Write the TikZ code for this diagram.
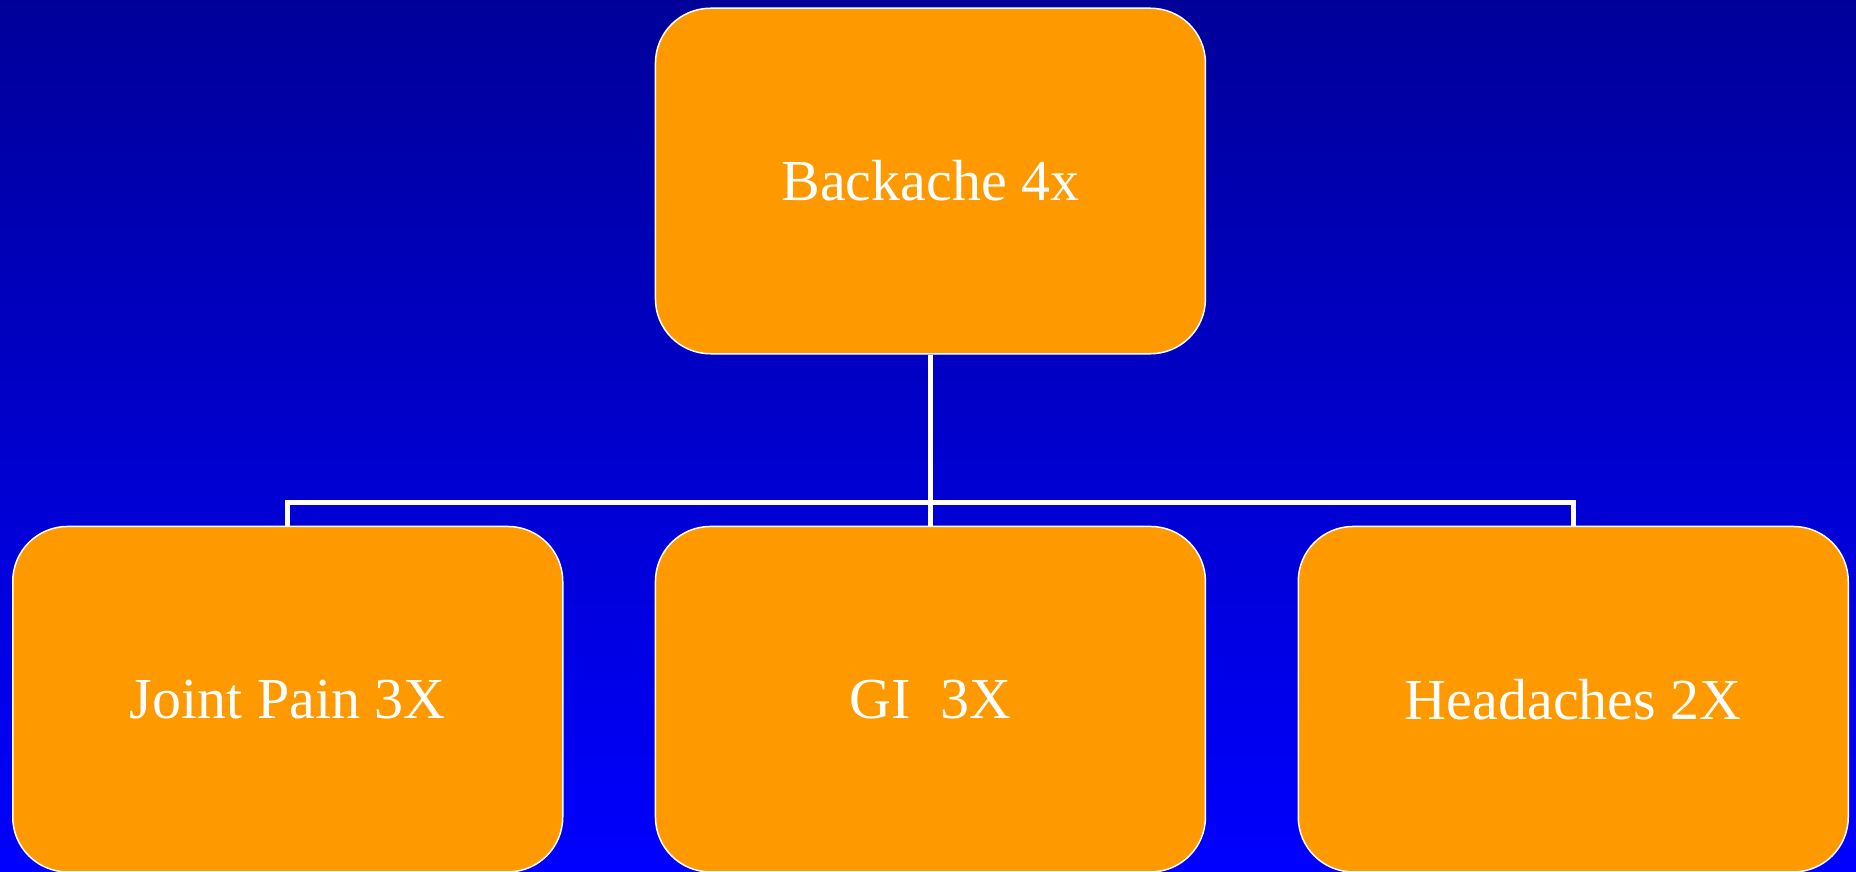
\documentclass[tikz,border=0pt]{standalone}
\usepackage{fontspec}
\setmainfont{Liberation Serif}
\definecolor{boxorange}{RGB}{255,153,0}
\definecolor{skytop}{RGB}{0,0,153}
\definecolor{skymid}{RGB}{0,0,218}
\definecolor{skybot}{RGB}{0,0,255}
\begin{document}
\begin{tikzpicture}[x=1pt,y=-1pt,
  box/.style={draw=white, line width=1.5pt, fill=boxorange,
    rounded corners=55pt, minimum width=550pt, minimum height=345.5pt,
    inner sep=0pt, anchor=north west, text=white,
    font=\fontsize{58}{70}\selectfont},
  link/.style={draw=white, line width=5pt}]
  % gradient backdrop
  \shade[top color=skytop, middle color=skymid, bottom color=skybot]
    (0,0) rectangle (1856,872);
  \useasboundingbox (0,0) rectangle (1856,872);

  % boxes
  \node[box] (top)   at (654.7,7.5)   {Backache 4x};
  \node[box] (joint) at (12,525.7)    {Joint Pain 3X};
  \node[box] (gi)    at (654.7,525.7) {GI~~3X};
  \node[box] (head)  at (1297.5,525.7) {Headaches 2X};

  % org-chart connectors
  \coordinate (split) at (top.south |- 0,502.5);
  \draw[link] (top.south) -- (gi.north);
  \draw[link] (joint.north) |- (split) -| (head.north);
\end{tikzpicture}
\end{document}
